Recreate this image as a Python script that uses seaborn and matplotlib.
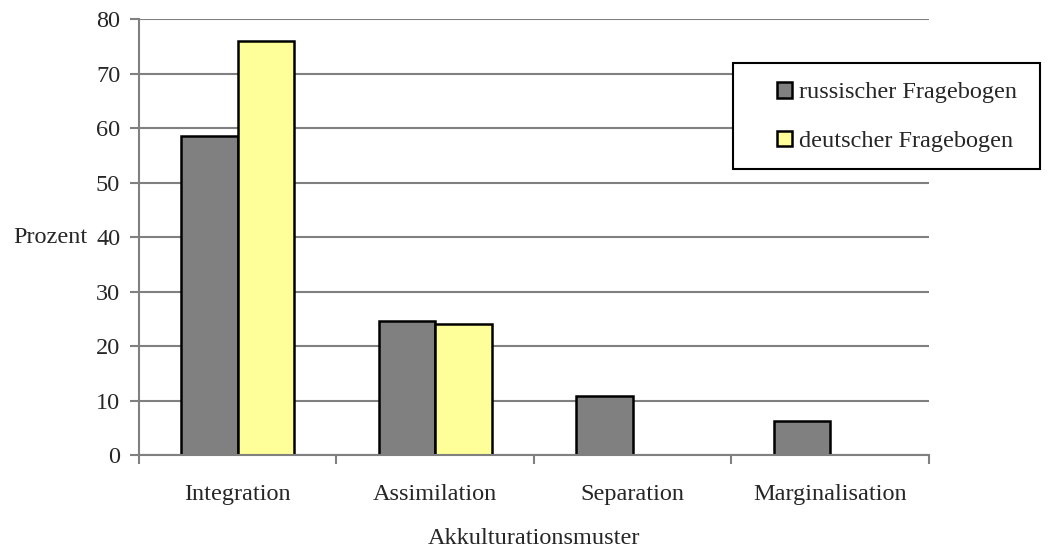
import matplotlib.pyplot as plt
import seaborn as sns
import numpy as np
import pandas as pd
from matplotlib.patches import Rectangle

categories = ["Integration", "Assimilation", "Separation", "Marginalisation"]
russisch = [58.5, 24.6, 10.9, 6.3]
deutsch = [76.0, 24.1, np.nan, np.nan]
series = ["russischer Fragebogen", "deutscher Fragebogen"]
colors = ["#808080", "#FFFF99"]

df = pd.DataFrame({
    "Akkulturationsmuster": categories * 2,
    "Prozent": russisch + deutsch,
    "Fragebogen": [series[0]] * 4 + [series[1]] * 4,
})

sns.set_style("white")
plt.rcParams["font.family"] = ["Liberation Serif", "DejaVu Serif"]
fs = 17.5

fig = plt.figure(figsize=(10.57, 5.48), dpi=100)
ax = fig.add_axes([0.1315, 0.1697, 0.7474, 0.7956])

sns.barplot(data=df, x="Akkulturationsmuster", y="Prozent", hue="Fragebogen",
            order=categories, hue_order=series, palette=colors, width=0.57,
            edgecolor="black", linewidth=1.8, saturation=1, ax=ax, legend=True)

ax.set_ylim(0, 80)
ax.set_yticks(range(0, 81, 10))
ax.set_xlim(-0.5, 3.5)
ax.yaxis.grid(True, color="#808080", linewidth=1.5)
ax.set_axisbelow(True)

for s in ["top", "right"]:
    ax.spines[s].set_visible(False)
for s in ["left", "bottom"]:
    ax.spines[s].set_color("#808080")
    ax.spines[s].set_linewidth(1.5)

ax.set_xticks(range(4))
ax.set_xticklabels(categories)
ax.set_xticks(np.arange(-0.5, 3.6, 1), minor=True)
ax.tick_params(axis="x", which="major", length=0, pad=21, labelsize=fs)
ax.tick_params(axis="x", which="minor", bottom=True, length=6.5, width=1.5,
               color="#808080", direction="out")
ax.tick_params(axis="y", left=True, length=6.5, width=1.5, color="#808080",
               direction="out", pad=7, labelsize=fs)

ax.set_xlabel("Akkulturationsmuster", fontsize=fs, va="center")
ax.xaxis.set_label_coords(0.5, (455 - 538) / 436)
ax.set_ylabel("Prozent", rotation=0, ha="right", va="center", fontsize=fs)
ax.yaxis.set_label_coords((88 - 139) / 790, 0.5)

# legend box drawn separately, entries placed inside as a figure legend
handles, labels = ax.get_legend_handles_labels()
ax.get_legend().remove()
fig.patches.append(Rectangle((733 / 1057, 1 - 169 / 548), 307 / 1057, 106 / 548,
                             transform=fig.transFigure, fill=True, facecolor="white",
                             edgecolor="black", linewidth=1.5, zorder=3))
leg = fig.legend(handles, labels, loc="upper left",
                 bbox_to_anchor=(777 / 1057, 1 - 82 / 548),
                 frameon=False, fontsize=fs,
                 handlelength=0.62, handleheight=0.62, handletextpad=0.3,
                 labelspacing=1.12, borderpad=0, borderaxespad=0)
leg.set_zorder(6)

fig.savefig("out.png", dpi=100)
